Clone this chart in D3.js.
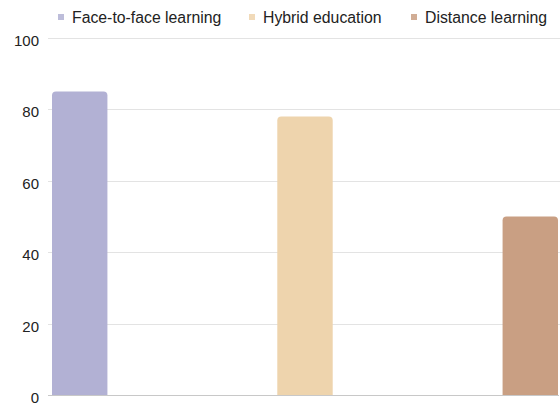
<!DOCTYPE html>
<html lang="en">
<head>
<meta charset="UTF-8">
<title>Learning modes</title>
<script src="https://d3js.org/d3.v7.min.js"></script>
<style>
  body { margin: 0; background: #fff; }
  text { font-family: "Liberation Sans", Arial, sans-serif; fill: #222; }
</style>
</head>
<body>
<div id="chart"></div>
<script>
// data
const categories = ["Face-to-face learning", "Hybrid education", "Distance learning"];
const values = [85, 78, 50];
const colors = ["#b2b1d4", "#eed4ad", "#c99f83"];
const yTicks = [0, 20, 40, 60, 80, 100];

const width = 560, height = 408;
const margin = {top: 38, right: 2, bottom: 13, left: 52};

const svg = d3.select("#chart").append("svg")
  .attr("width", width)
  .attr("height", height);

const x = d3.scaleBand()
  .domain(categories)
  .range([margin.left, width - margin.right])
  .paddingInner(0.754)
  .paddingOuter(0);

const y = d3.scaleLinear()
  .domain([0, 100])
  .range([height - margin.bottom, margin.top]);

// gridlines
svg.append("g")
  .selectAll("line")
  .data(yTicks.filter(d => d > 0))
  .join("line")
  .attr("x1", 48)
  .attr("x2", width)
  .attr("y1", d => Math.round(y(d)) + 0.5)
  .attr("y2", d => Math.round(y(d)) + 0.5)
  .attr("stroke", "#e3e3e3")
  .attr("stroke-width", 1);

// y axis labels
const yAxis = svg.append("g")
  .attr("transform", `translate(${margin.left - 13},0)`)
  .call(d3.axisLeft(y).tickValues(yTicks).tickSize(0).tickPadding(0));
yAxis.select(".domain").remove();
yAxis.selectAll("text")
  .attr("font-size", 15)
  .attr("font-family", "'Liberation Sans', Arial, sans-serif")
  .attr("fill", "#222")
  .attr("dy", "0.5em");

// bars with rounded tops
const r = 4;
function barPath(x0, w, yTop, yBase) {
  return `M${x0},${yBase} V${yTop + r} Q${x0},${yTop} ${x0 + r},${yTop} H${x0 + w - r} Q${x0 + w},${yTop} ${x0 + w},${yTop + r} V${yBase} Z`;
}
svg.append("g")
  .selectAll("path")
  .data(categories)
  .join("path")
  .attr("d", (c, i) => barPath(x(c), x.bandwidth(), y(values[i]), y(0)))
  .attr("fill", (c, i) => colors[i]);

// baseline
svg.append("line")
  .attr("x1", 48).attr("x2", width - 1)
  .attr("y1", y(0) + 0.5).attr("y2", y(0) + 0.5)
  .attr("stroke", "#c8c8c8");

// legend
const legendX = [58, 249, 411];
const legend = svg.append("g")
  .selectAll("g")
  .data(categories)
  .join("g")
  .attr("transform", (c, i) => `translate(${legendX[i]},17)`);
legend.append("rect")
  .attr("x", 0).attr("y", -3)
  .attr("width", 6).attr("height", 6)
  .attr("fill", (c, i) => colors[i])
  .attr("opacity", 0.85);
legend.append("text")
  .attr("x", 14)
  .attr("y", 5.5)
  .attr("font-size", 15.8)
  .text(c => c);
</script>
</body>
</html>
